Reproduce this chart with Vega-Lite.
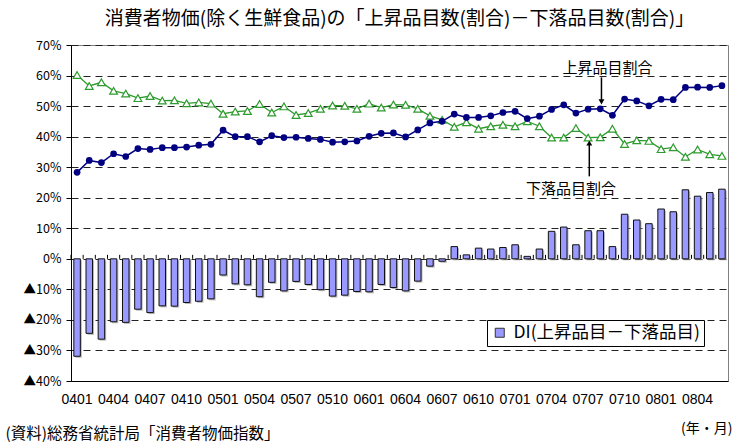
{
  "$schema": "https://vega.github.io/schema/vega-lite/v6.json",
  "width": 657,
  "height": 336,
  "autosize": {"type": "none"},
  "padding": {"left": 71, "top": 45, "right": 14, "bottom": 62},
  "background": "white",
  "title": {"text": "消費者物価(除く生鮮食品)の「上昇品目数(割合)－下落品目数(割合)」", "fontSize": 19, "fontWeight": "normal", "anchor": "middle", "offset": 10, "color": "#000", "font": "Noto Sans CJK JP"},
  "datasets": {
    "cpi": [
      {"m": "0401", "up": 28.3, "down": 60.2, "di": -31.9},
      {"m": "0402", "up": 32.2, "down": 56.6, "di": -24.4},
      {"m": "0403", "up": 31.5, "down": 57.8, "di": -26.3},
      {"m": "0404", "up": 34.4, "down": 55.0, "di": -20.6},
      {"m": "0405", "up": 33.5, "down": 54.1, "di": -20.8},
      {"m": "0406", "up": 36.1, "down": 52.6, "di": -16.5},
      {"m": "0407", "up": 35.8, "down": 53.3, "di": -17.6},
      {"m": "0408", "up": 36.4, "down": 51.8, "di": -15.4},
      {"m": "0409", "up": 36.4, "down": 51.9, "di": -15.5},
      {"m": "0410", "up": 36.6, "down": 50.9, "di": -14.3},
      {"m": "0411", "up": 37.2, "down": 51.2, "di": -13.9},
      {"m": "0412", "up": 37.5, "down": 50.8, "di": -13.1},
      {"m": "0501", "up": 42.1, "down": 47.5, "di": -5.3},
      {"m": "0502", "up": 40.0, "down": 48.2, "di": -8.2},
      {"m": "0503", "up": 40.0, "down": 48.4, "di": -8.5},
      {"m": "0504", "up": 38.3, "down": 50.7, "di": -12.4},
      {"m": "0505", "up": 40.3, "down": 47.9, "di": -7.7},
      {"m": "0506", "up": 39.7, "down": 49.9, "di": -10.5},
      {"m": "0507", "up": 39.8, "down": 47.1, "di": -7.4},
      {"m": "0508", "up": 39.4, "down": 47.7, "di": -8.4},
      {"m": "0509", "up": 39.1, "down": 49.1, "di": -10.1},
      {"m": "0510", "up": 38.2, "down": 50.2, "di": -12.2},
      {"m": "0511", "up": 38.3, "down": 50.1, "di": -11.9},
      {"m": "0512", "up": 38.6, "down": 49.1, "di": -10.7},
      {"m": "0601", "up": 40.1, "down": 50.8, "di": -10.8},
      {"m": "0602", "up": 41.1, "down": 49.5, "di": -8.4},
      {"m": "0603", "up": 41.2, "down": 50.5, "di": -9.4},
      {"m": "0604", "up": 39.9, "down": 50.4, "di": -10.5},
      {"m": "0605", "up": 42.2, "down": 49.1, "di": -7.3},
      {"m": "0606", "up": 44.5, "down": 46.8, "di": -2.4},
      {"m": "0607", "up": 45.0, "down": 45.5, "di": -0.8},
      {"m": "0608", "up": 47.4, "down": 43.2, "di": 4.0},
      {"m": "0609", "up": 46.3, "down": 44.7, "di": 1.3},
      {"m": "0610", "up": 46.3, "down": 42.6, "di": 3.5},
      {"m": "0611", "up": 46.8, "down": 43.4, "di": 3.2},
      {"m": "0612", "up": 47.9, "down": 43.9, "di": 3.7},
      {"m": "0701", "up": 48.3, "down": 43.4, "di": 4.6},
      {"m": "0702", "up": 45.9, "down": 45.0, "di": 0.8},
      {"m": "0703", "up": 46.7, "down": 43.4, "di": 3.2},
      {"m": "0704", "up": 48.9, "down": 39.7, "di": 9.0},
      {"m": "0705", "up": 50.4, "down": 39.7, "di": 10.4},
      {"m": "0706", "up": 47.7, "down": 42.8, "di": 4.6},
      {"m": "0707", "up": 49.0, "down": 39.7, "di": 9.2},
      {"m": "0708", "up": 49.1, "down": 39.8, "di": 9.2},
      {"m": "0709", "up": 47.0, "down": 42.6, "di": 4.0},
      {"m": "0710", "up": 52.3, "down": 37.6, "di": 14.6},
      {"m": "0711", "up": 51.7, "down": 38.8, "di": 12.7},
      {"m": "0712", "up": 50.1, "down": 38.6, "di": 11.5},
      {"m": "0801", "up": 52.2, "down": 35.9, "di": 16.3},
      {"m": "0802", "up": 52.1, "down": 36.5, "di": 15.4},
      {"m": "0803", "up": 56.1, "down": 33.4, "di": 22.6},
      {"m": "0804", "up": 56.2, "down": 35.8, "di": 20.5},
      {"m": "0805", "up": 56.1, "down": 34.2, "di": 21.7},
      {"m": "0806", "up": 56.7, "down": 33.7, "di": 22.8}
    ],
    "notes": [
      {"label": "上昇品目割合", "tm": "0709", "ty": 62.4, "am": "0708", "y1": 59.4, "y2": 51.6, "tip": 51.4, "dir": "down"},
      {"label": "下落品目割合", "tm": "0706", "ty": 22.8, "am": "0707", "y1": 27.0, "y2": 37.5, "tip": 37.9, "dir": "up"}
    ]
  },
  "config": {
    "font": "Noto Sans CJK JP",
    "view": {"stroke": "#808080", "strokeWidth": 1}
  },
  "layer": [
    {
      "data": {"name": "cpi"},
      "mark": {"type": "bar", "size": 6.5, "color": "#9a9a9a", "opacity": 0.7, "xOffset": 1.5, "yOffset": 1.5},
      "encoding": {
        "x": {"field": "m", "type": "ordinal", "scale": {"paddingInner": 0, "paddingOuter": 0},
          "axis": {"values": ["0401","0404","0407","0410","0501","0504","0507","0510","0601","0604","0607","0610","0701","0704","0707","0710","0801","0804"],
            "labelAngle": 0, "ticks": false, "tickSize": 0, "grid": false, "domainColor": "#000", "domainWidth": 1,
            "labelFontSize": 14, "labelFont": "Liberation Sans", "labelColor": "#000", "labelPadding": 11,
            "title": "(年・月)", "titleX": 661, "titleY": 47, "titleAlign": "right", "titleBaseline": "middle",
            "titleFontSize": 14, "titleFontWeight": "normal", "titleColor": "#000", "titleFont": "Noto Sans CJK JP"}},
        "y": {"field": "di", "type": "quantitative", "scale": {"domain": [-40, 70], "nice": false},
          "axis": {"values": [-40,-30,-20,-10,0,10,20,30,40,50,60,70], "tickCount": 20, "labelOverlap": false,
            "labelExpr": "datum.value < 0 ? '▲' + abs(datum.value) + '%' : datum.value + '%'",
            "grid": true, "gridDash": [7, 5], "gridColor": "#222", "gridWidth": 1,
            "domainColor": "#000", "tickColor": "#000", "tickSize": 5,
            "labelFontSize": 12.5, "labelFont": "Noto Sans CJK JP", "labelColor": "#000", "labelPadding": 5,
            "title": "(資料)総務省統計局「消費者物価指数」", "titleAngle": 0, "titleX": -66, "titleY": 388,
            "titleAlign": "left", "titleBaseline": "middle", "titleFontSize": 15.5, "titleFontWeight": "normal",
            "titleColor": "#000", "titleFont": "Noto Sans CJK JP"}}
      }
    },
    {
      "data": {"name": "cpi"},
      "mark": {"type": "bar", "size": 6.5, "stroke": "#111", "strokeWidth": 1},
      "encoding": {
        "x": {"field": "m", "type": "ordinal"},
        "y": {"field": "di", "type": "quantitative", "axis": {"values": [-40,-30,-20,-10,0,10,20,30,40,50,60,70], "tickCount": 20, "labelOverlap": false}},
        "color": {"datum": "DI(上昇品目－下落品目)", "scale": {"range": ["#9999ff"]},
          "legend": {"orient": "none", "legendX": 416, "legendY": 275, "strokeColor": "#000", "fillColor": "#fff",
            "padding": 4, "symbolType": "square", "symbolSize": 81, "symbolStrokeColor": "#333", "symbolStrokeWidth": 1,
            "labelFontSize": 17.5, "labelFont": "Noto Sans CJK JP", "labelColor": "#000", "labelOffset": 5, "title": null, "labelLimit": 400}}
      }
    },
    {
      "data": {"name": "cpi"},
      "mark": {"type": "rule", "color": "#000", "strokeWidth": 1},
      "encoding": {
        "x": {"field": "m", "type": "ordinal", "bandPosition": 0},
        "y": {"datum": 0, "axis": {"values": [-40,-30,-20,-10,0,10,20,30,40,50,60,70], "tickCount": 20, "labelOverlap": false}},
        "y2": {"datum": 1.3}
      }
    },
    {
      "mark": {"type": "rule", "color": "#000", "strokeWidth": 1},
      "encoding": {"y": {"datum": 0, "axis": {"values": [-40,-30,-20,-10,0,10,20,30,40,50,60,70], "tickCount": 20, "labelOverlap": false}}}
    },
    {
      "data": {"name": "cpi"},
      "mark": {"type": "line", "color": "#2e9b2e", "strokeWidth": 1.3},
      "encoding": {
        "x": {"field": "m", "type": "ordinal"},
        "y": {"field": "down", "type": "quantitative", "axis": {"values": [-40,-30,-20,-10,0,10,20,30,40,50,60,70], "tickCount": 20, "labelOverlap": false}}
      }
    },
    {
      "data": {"name": "cpi"},
      "mark": {"type": "point", "shape": "triangle-up", "size": 60, "filled": false, "fill": "#fff", "fillOpacity": 1, "stroke": "#2e9b2e", "strokeWidth": 1.2, "opacity": 1},
      "encoding": {
        "x": {"field": "m", "type": "ordinal"},
        "y": {"field": "down", "type": "quantitative", "axis": {"values": [-40,-30,-20,-10,0,10,20,30,40,50,60,70], "tickCount": 20, "labelOverlap": false}}
      }
    },
    {
      "data": {"name": "cpi"},
      "mark": {"type": "line", "color": "#000080", "strokeWidth": 1.5},
      "encoding": {
        "x": {"field": "m", "type": "ordinal"},
        "y": {"field": "up", "type": "quantitative", "axis": {"values": [-40,-30,-20,-10,0,10,20,30,40,50,60,70], "tickCount": 20, "labelOverlap": false}}
      }
    },
    {
      "data": {"name": "cpi"},
      "mark": {"type": "point", "shape": "circle", "size": 45, "filled": true, "color": "#000080", "opacity": 1},
      "encoding": {
        "x": {"field": "m", "type": "ordinal"},
        "y": {"field": "up", "type": "quantitative", "axis": {"values": [-40,-30,-20,-10,0,10,20,30,40,50,60,70], "tickCount": 20, "labelOverlap": false}}
      }
    },
    {
      "data": {"name": "notes"},
      "mark": {"type": "rule", "color": "#000", "strokeWidth": 1.5},
      "encoding": {
        "x": {"field": "am", "type": "ordinal", "bandPosition": 0.6},
        "y": {"field": "y1", "type": "quantitative", "axis": {"values": [-40,-30,-20,-10,0,10,20,30,40,50,60,70], "tickCount": 20, "labelOverlap": false}},
        "y2": {"field": "y2"}
      }
    },
    {
      "data": {"name": "notes"},
      "transform": [{"filter": "datum.dir == 'down'"}],
      "mark": {"type": "point", "shape": "triangle-down", "size": 35, "filled": true, "color": "#000", "opacity": 1},
      "encoding": {
        "x": {"field": "am", "type": "ordinal", "bandPosition": 0.6},
        "y": {"field": "tip", "type": "quantitative", "axis": {"values": [-40,-30,-20,-10,0,10,20,30,40,50,60,70], "tickCount": 20, "labelOverlap": false}}
      }
    },
    {
      "data": {"name": "notes"},
      "transform": [{"filter": "datum.dir == 'up'"}],
      "mark": {"type": "point", "shape": "triangle-up", "size": 35, "filled": true, "color": "#000", "opacity": 1},
      "encoding": {
        "x": {"field": "am", "type": "ordinal", "bandPosition": 0.6},
        "y": {"field": "tip", "type": "quantitative", "axis": {"values": [-40,-30,-20,-10,0,10,20,30,40,50,60,70], "tickCount": 20, "labelOverlap": false}}
      }
    },
    {
      "data": {"name": "notes"},
      "mark": {"type": "text", "fontSize": 15, "color": "#000", "align": "center", "baseline": "middle", "font": "Noto Sans CJK JP"},
      "encoding": {
        "x": {"field": "tm", "type": "ordinal", "bandPosition": 0.1},
        "y": {"field": "ty", "type": "quantitative", "axis": {"values": [-40,-30,-20,-10,0,10,20,30,40,50,60,70], "tickCount": 20, "labelOverlap": false}},
        "text": {"field": "label"}
      }
    }
  ]
}
